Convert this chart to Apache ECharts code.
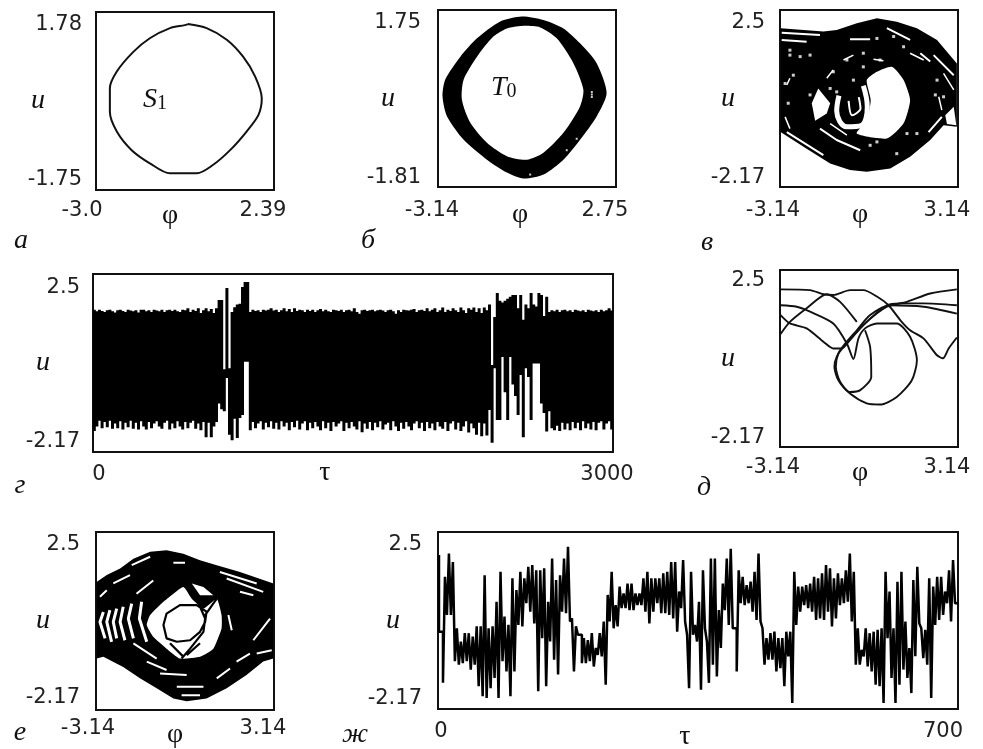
<!DOCTYPE html>
<html><head><meta charset="utf-8">
<style>html,body{margin:0;padding:0;background:#fff}#c{width:983px;height:749px}</style>
<script src="https://cdn.jsdelivr.net/npm/echarts@6/dist/echarts.min.js"></script>
</head><body><div id="c"></div>
<script>
// ---------- panel а
const aLoop=[[-.22,1.54],[.35,1.46],[.96,1.23],[1.46,.89],[1.82,.5],[2.02,.07],[1.92,-.26],[1.56,-.59],[1.06,-.96],[.55,-1.25],[.05,-1.42],[-.76,-1.42],[-1.37,-1.22],[-1.92,-.96],[-2.37,-.59],[-2.58,-.2],[-2.58,.27],[-2.37,.6],[-1.87,.99],[-1.37,1.26],[-.76,1.46],[-.31,1.52],[-.22,1.54]];
// ---------- panel б
const bOuter=[[-.37,1.62],[.35,1.55],[1.01,1.38],[1.56,1.08],[2.11,.68],[2.44,.08],[2.11,-.39],[1.56,-.86],[1.01,-1.26],[.35,-1.56],[-.31,-1.64],[-.86,-1.52],[-1.52,-1.26],[-2.29,-.86],[-2.84,-.39],[-2.99,.01],[-2.9,.35],[-2.4,.81],[-1.85,1.18],[-1.08,1.52]];
const bInner=[[-.37,1.43],[.24,1.4],[.79,1.18],[1.34,.68],[1.67,.15],[1.56,-.19],[1.01,-.72],[.35,-1.12],[-.2,-1.26],[-.86,-1.19],[-1.52,-.92],[-2.07,-.52],[-2.35,-.05],[-2.29,.35],[-1.85,.81],[-1.3,1.22],[-.86,1.38]];
const bSpecks=[[1.95,.05],[1.95,.0],[1.95,.1],[1.45,-.84],[1.12,-1.07],[-.09,-1.56]];
// ---------- panel в
const vOuter=[[-3.12,2.02],[-1.61,1.93],[-1.14,1.97],[-.43,2.15],[.28,2.28],[.98,2.19],[1.69,2.02],[2.4,1.71],[3.1,1.09],[3.1,-.58],[2.63,-.54],[2.16,-.93],[1.45,-1.37],[.75,-1.68],[-.08,-1.77],[-.67,-1.72],[-1.37,-1.55],[-2.2,-1.16],[-3.12,-.72]];
const vHole=[[-.08,.65],[.28,.87],[.81,1],[1.22,.65],[1.45,.12],[1.22,-.49],[.63,-.89],[-.43,-.76],[-.08,-.41],[.06,.12]];
const vPatch=[[-1.79,.43],[-1.37,.04],[-1.49,-.23],[-1.9,-.42],[-2.02,.04]];
const vPatch2=[[2.69,-.28],[2.99,-.05],[3.08,-.54],[2.75,-.51]];
const vGaps=[
 [[-3.08,1.9],[-1.73,1.84]],[[-3.08,1.71],[-2.2,1.66]],[[.63,2.02],[1.45,1.71]],[[-.67,1.73],[.04,1.73]],
 [[2.28,1.31],[2.99,.78]],[[-2.9,-.72],[-1.61,-1.33]],[[-1.73,-.63],[-1.14,-.93],[-.31,-1.2]],[[2.57,-.32],[2.1,-.72]],
 [[1.81,1.36],[2.16,1.14]]];
const vThinGaps=[[[-1.49,.7],[-1.26,.92]],[[-.9,1.18],[-.55,1.31]],[[.16,1.2],[.51,1.16]],[[1.45,1.36],[1.93,1.18]],[[-2.9,.52],[-2.79,.7]],[[-2.96,-.32],[-2.79,-.63]],[[-1.37,-.5],[-.78,-.8]],[[2.63,.83],[2.99,.39]],[[2.46,.21],[2.57,-.14]]];
const vSpiral=[[-.2,.5],[-.06,-.05],[-.28,-.55],[-.78,-.58],[-1.14,-.16],[-1.06,.24]];
const vSpiralCore=[[-.72,.1],[-.6,-.28],[-.3,-.1],[-.36,.2]];
const vSpecks=[[-1.26,.87],[-2.08,1.31],[-2.79,1.44],[-2.96,.56],[-2.67,.78],[-2.85,.04],[-2.08,.26],[-1.37,.43],[-1.14,.34],[-.78,1.18],[-.2,1.36],[.39,1.18],[.87,1.8],[.28,1.75],[1.22,1.53],[2.4,.65],[2.63,.21],[2.34,.26],[1.34,-.76],[1.69,-.76],[.98,-1.29],[.28,-.98],[.04,-1.07],[-2.79,1.31],[-2.43,1.27],[-.55,.65],[-.2,1]];
// ---------- panel г
const gHi=[1.56,1.52,1.56,1.53,1.5,1.55,1.56,1.52,1.49,1.55,
1.56,1.53,1.5,1.56,1.54,1.52,1.55,1.49,1.56,1.56,
1.52,1.55,1.5,1.56,1.54,1.52,1.56,1.5,1.55,1.56,
1.53,1.56,1.52,1.5,1.56,1.55,1.6,1.5,1.56,1.53,
1.6,1.48,1.55,1.6,1.52,1.58,1.48,1.6,1.82,1.82,
0,2.13,.03,1.5,1.63,1.7,1.72,2.16,2.29,2.29,
1.5,1.56,1.53,1.55,1.5,1.56,1.54,1.56,1.6,1.54,
1.56,1.5,1.55,1.6,1.52,1.58,1.5,1.6,1.53,1.56,
1.55,1.5,1.56,1.53,1.56,1.5,1.55,1.58,1.52,1.56,
1.52,1.5,1.56,1.55,1.53,1.56,1.5,1.55,1.56,1.52,
1.6,1.5,1.46,1.55,1.56,1.53,1.55,1.56,1.52,1.55,
1.56,1.54,1.5,1.55,1.56,1.52,1.46,1.55,1.5,1.56,
1.55,1.54,1.56,1.58,1.5,1.55,1.56,1.53,1.6,1.52,
1.56,1.6,1.5,1.55,1.62,1.5,1.56,1.53,1.6,1.55,
1.5,1.62,1.55,1.48,1.6,1.56,1.62,1.5,1.6,1.48,
1.62,1.55,1.7,.11,1.37,2,1.8,1.75,1.8,1.85,
1.9,1.95,1.95,1.6,1.95,1.3,1.7,1.6,2,1.7,
1.65,2,1.95,1.4,1.9,1.5,1.55,1.52,1.56,1.5,
1.55,1.56,1.52,1.55,1.5,1.56,1.54,1.52,1.55,1.5,
1.56,1.54,1.52,1.55,1.5,1.56,1.52,1.55,1.6,1.54];
const gLo=[-1.62,-1.5,-1.35,-1.55,-1.38,-1.52,-1.35,-1.56,-1.42,-1.55,
-1.36,-1.58,-1.4,-1.52,-1.35,-1.56,-1.4,-1.58,-1.36,-1.5,
-1.58,-1.38,-1.55,-1.42,-1.36,-1.5,-1.56,-1.4,-1.35,-1.58,
-1.42,-1.55,-1.36,-1.5,-1.58,-1.38,-1.55,-1.4,-1.35,-1.56,
-1.42,-1.6,-1.38,-1.78,-1.4,-1.78,-1.5,-1.38,-.9,-1.05,
-1.1,-.23,-1.72,-1.86,-1.3,-1.8,-1.28,-1.2,.2,.2,
-1.6,-1.38,-1.55,-1.42,-1.36,-1.58,-1.4,-1.52,-1.36,-1.56,
-1.4,-1.58,-1.36,-1.5,-1.4,-1.6,-1.38,-1.52,-1.35,-1.58,
-1.42,-1.36,-1.6,-1.4,-1.55,-1.38,-1.5,-1.6,-1.36,-1.55,
-1.4,-1.62,-1.38,-1.5,-1.42,-1.36,-1.62,-1.4,-1.55,-1.38,
-1.5,-1.58,-1.36,-1.65,-1.42,-1.56,-1.38,-1.6,-1.4,-1.52,
-1.36,-1.58,-1.45,-1.4,-1.6,-1.36,-1.5,-1.62,-1.4,-1.56,
-1.38,-1.5,-1.6,-1.42,-1.36,-1.55,-1.4,-1.62,-1.38,-1.55,
-1.42,-1.6,-1.38,-1.5,-1.56,-1.38,-1.62,-1.42,-1.36,-1.58,
-1.4,-1.62,-1.5,-1.36,-1.66,-1.42,-1.55,-1.72,-1.4,-1.76,
-1.42,-1.74,-1.07,-1.93,.03,-1.33,-1.33,.32,-.6,-1.33,
.32,-.4,-.7,-1.2,-.15,-1.78,.03,-.2,-1.33,.15,
.15,.15,-.9,-1.15,-1.63,-1.1,-1.55,-1.6,-1.48,-1.62,
-1.4,-1.58,-1.42,-1.6,-1.38,-1.55,-1.4,-1.6,-1.36,-1.55,
-1.42,-1.58,-1.38,-1.6,-1.4,-1.36,-1.58,-1.42,-1.36,-1.58];
// ---------- panel д
const dTraj1=[[-3.12,1.99],[-2.08,1.97],[-1.61,1.86],[-1.26,1.84],[-.67,1.97],[-.2,1.97],[.28,1.8],[.69,1.57],[1.1,1.18],[1.45,.91],[1.93,.69],[2.4,.25],[2.61,.17],[2.81,.43],[3.1,.72]];
const dTraj2=[[-3.12,.81],[-2.79,1.13],[-2.2,1.49],[-1.49,1.86],[-1.02,1.66],[-.43,1.13]];
const dTraj3=[[3.1,1.99],[2.16,1.88],[1.34,1.66],[.63,1.53],[-.2,1.05],[-.9,.47],[-1.14,.21],[-1.22,-.05],[-1.08,-.41],[-.67,-.76],[-.08,-1.02],[.39,-1.05],[.98,-.85],[1.51,-.41],[1.69,.12],[1.45,.74],[.98,1.09],[.28,1.09],[-.14,.96],[-.37,.7],[-.55,.15],[-.78,.56],[-1.26,1.09],[-2.08,1.4],[-2.55,1.53],[-3.12,1.57]];
const dTraj4=[[-3.12,1.31],[-2.79,1.09],[-2.2,.96],[-1.61,.61],[-1.26,.43],[-.96,.43],[-.67,.65],[-.2,1.05],[.63,1.57],[1.1,1.62],[1.93,1.62],[3.1,1.57]];
const dTraj5=[[-.14,.91],[.04,.47],[.08,-.32],[-.31,-.67],[-.67,-.72],[-1.02,-.45],[-1.17,-.05],[-1.08,.3],[-.84,.56],[-.43,.91],[.04,1.31],[.75,1.57],[1.93,1.53],[3.1,1.35]];
// ---------- panel е
const eOuter=[[-3.12,1.19],[-2.76,1.37],[-2.29,1.54],[-1.82,1.8],[-1.23,1.98],[-.65,2.02],[-.06,1.93],[.53,1.76],[1.12,1.63],[1.94,1.45],[3.12,1.15],[3.12,-.82],[2.76,-.9],[2.17,-1.25],[1.47,-1.6],[.76,-1.87],[.06,-1.94],[-.41,-1.87],[-1,-1.6],[-1.59,-1.34],[-2.18,-1.04],[-2.88,-.77],[-3.12,-.82]];
const eHole=[[-1.23,.32],[-.76,.67],[-.06,1.06],[.24,.75],[.65,.49],[1.12,.75],[1.29,.32],[1.29,-.03],[1,-.56],[.53,-.77],[-.18,-.82],[-.65,-.56],[-1.12,-.25],[-1.35,.06]];
const eHole2=[[.24,1.15],[.65,1.06],[1,.84],[.53,.84]];
const eLines=[
 [[.76,.41],[.41,.58],[-.18,.58],[-.65,.36],[-.76,.06],[-.65,-.29],[-.29,-.38],[.18,-.34],[.53,-.12],[.71,.14],[.76,.41]],
 [[.06,1.15],[.41,.75],[.71,.23],[.65,-.12],[.18,-.56],[-.12,-.82]],
 [[-.53,-.42],[-.06,-.77]],[[.53,-.42],[.06,-.73]],[[.41,.71],[1.12,.75],[.71,.32]]];
const eArcs=[
 [[-2.88,.4],[-3,.14],[-2.82,-.29]],[[-2.65,.45],[-2.76,.14],[-2.59,-.38]],[[-2.41,.49],[-2.53,.14],[-2.41,-.29]],
 [[-2.18,.54],[-2.29,.14],[-2.12,-.34]],[[-1.88,.62],[-2,.23],[-1.82,-.29]],[[-1.53,.67],[-1.61,.23],[-1.35,-.38]]];
const eGaps=[
 [[-1.88,1.63],[-1.23,1.85]],[[-.41,1.69],[0,1.69]],[[-2.53,1.15],[-1.94,1.37]],[[-1.71,.88],[-1.12,1.23]],[[-3,.8],[-2.76,.97]],
 [[1.23,1.45],[2.53,1.15]],[[1.47,1.28],[2.76,.93]],[[1.94,.93],[2.41,.84]],[[-1.35,-.9],[-.65,-1.12]],[[-.88,-1.21],[.06,-1.25]],
 [[-.29,-1.56],[.65,-1.56]],[[-.12,-1.78],[.53,-1.78]],[[1.12,-1.34],[1.59,-1.08]],[[1.82,-.9],[2.29,-.69]],[[2.53,-.69],[3.06,-.6]],
 [[2.41,-.34],[3,.23]],[[1.53,.32],[1.65,-.08]],[[-1.82,-.42],[-1,-.82]]];
// ---------- panel ж
const zhHi=[1.89,-.13,1.32,1.93,1.71,-.04,-.39,-.17,-.17,-.26,.01,.01,1.36,-.04,.01,.66,1.45,.27,.05,1.28,.97,1.45,1.28,1.58,1.63,1.49,1.49,1.54,.66,1.8,1.23,1.36,1.8,2.11,.22,.01,-.21,-.3,-.35,-.17,-.56,-.17,.14,.84,1.45,.57,1.06,.88,1.14,1.14,.88,.88,1.28,1.45,1.28,1.28,
1.28,1.41,1.45,1.71,1.71,.93,1.76,-.21,1.45,.05,.66,1.49,-.39,1.8,1.8,.44,1.14,1.8,2.06,-.04,1.49,1.32,1.1,1.19,1.45,1.93,-.04,-.3,-.17,-.13,-.3,-.3,-.13,-.13,1.45,1.06,1.06,1.1,1.14,1.32,1.28,1.41,1.63,1.54,1.28,1.41,1.28,1.49,1.93,1.45,-.04,-.61,-.04,-.17,-.13,-.08,-.04,1.45,.93,-.04,1.19,1.45,.14,-.56,1.23,1.58,-.04,-.08,1.28,1.06,1.32,1.32,.93,1.49,1.76];
const zhLo=[-.13,-1.48,.31,.31,-.91,-1,-.96,-.91,-1.13,-1,-1.57,-1.83,-1.88,-1.62,-1.35,-1.88,-.91,-1.18,-1.83,-1.18,.05,.01,.62,.4,.09,-1.7,-.3,-1.57,-.39,-.87,-1.26,.4,.36,.14,-1.18,-.21,-.96,-.96,-.91,-1.05,-.74,-.78,-1.53,.14,-.04,.01,.49,.49,.44,.44,.57,.57,.4,.09,.4,.62,
.36,.36,.31,.22,-.13,.49,.14,-1.62,-.21,-.39,-1.66,-.04,-1.48,-1,-1.31,-.56,.44,.05,-.04,-1.18,.62,.57,.62,.4,.18,.14,-1,-.87,-.87,-1.18,-1.09,-1.57,-.78,-2.01,.05,.4,.57,.49,.4,.18,.22,.18,.4,.01,.22,.57,.62,.66,.14,-1,-1,-.78,-1.05,-1.18,-1.53,-1.57,-2.01,-.3,-1.35,-2.01,-1.53,-1.13,-1.35,-1.75,-.78,.09,-.83,-1,-1.88,.05,.18,.31,.62,.14,.62];
// ---------- labels
const aTicks={x:['-3.0','2.39'],y:['-1.75','1.78']};
const bTicks={x:['-3.14','2.75'],y:['-1.81','1.75']};
const vTicks={x:['-3.14','3.14'],y:['-2.17','2.5']};
const gTicks={x:['0','3000'],y:['-2.17','2.5']};
const dTicks={x:['-3.14','3.14'],y:['-2.17','2.5']};
const eTicks={x:['-3.14','3.14'],y:['-2.17','2.5']};
const zhTicks={x:['0','700'],y:['-2.17','2.5']};
const phiName='φ', tauName='τ', uName='u';

const FONT='"DejaVu Sans"', FS=21;
const grids=[],xAxes=[],yAxes=[],series=[];
let zc=2;
function panel(box,ticks,xName,o){
  const k=grids.length;
  grids.push({left:box[0],top:box[1],width:box[2],height:box[3],show:true,borderColor:'#111',borderWidth:2,backgroundColor:'#fff',outerBoundsMode:'none'});
  const xv=ticks.x.map(Number),yv=ticks.y.map(Number);
  const lbl={fontFamily:FONT,fontSize:FS,color:'#222',lineHeight:22};
  xAxes.push({gridIndex:k,type:'value',min:xv[0],max:xv[1],
    name:xName,nameLocation:'middle',nameGap:o.xGap,nameMoveOverlap:false,
    nameTextStyle:{fontFamily:'"Liberation Serif"',fontSize:28,color:'#111',padding:[0,o.xShift*2,0,0]},
    axisLine:{show:false},axisTick:{show:false},splitLine:{show:false},
    axisLabel:{customValues:xv,margin:o.xMargin,hideOverlap:false,fontFamily:FONT,fontSize:FS,color:'#222',
      formatter:v=>(v===xv[0]?'{a|':'{b|')+(v===xv[0]?ticks.x[0]:ticks.x[1])+'}',
      rich:{a:Object.assign({},lbl,o.lShift>0?{padding:[0,0,0,o.lShift*2]}:{padding:[0,-o.lShift*2,0,0]}),
            b:Object.assign({},lbl,{padding:[0,-o.rShift*2,0,0]})}}});
  yAxes.push({gridIndex:k,type:'value',min:yv[0],max:yv[1],
    name:uName,nameLocation:'middle',nameRotate:0,nameGap:o.uGap,nameMoveOverlap:false,
    nameTextStyle:{fontFamily:'"Liberation Serif"',fontStyle:'italic',fontSize:28,color:'#111',align:'center',verticalAlign:'middle'},
    axisLine:{show:false},axisTick:{show:false},splitLine:{show:false},
    axisLabel:{customValues:yv,margin:o.yMargin,hideOverlap:false,fontFamily:FONT,fontSize:FS,color:'#222',
      verticalAlignMinLabel:'bottom',verticalAlignMaxLabel:'top',
      formatter:v=>v===yv[0]?'{m|'+ticks.y[0]+'}':'{t|'+ticks.y[1]+'}',
      rich:{t:Object.assign({},lbl,{lineHeight:o.tLH||26}),m:Object.assign({},lbl,{lineHeight:o.mLH||20})}}});
  return k;
}
function line(k,rows,color,w,smooth){
  series.push({type:'line',xAxisIndex:k,yAxisIndex:k,data:rows,showSymbol:false,silent:true,animation:false,z:zc++,smooth:smooth||false,
    lineStyle:{color:color,width:w,join:'bevel',cap:'butt'},connectNulls:false,clip:true});
}
function strokes(k,list,color,w){
  const rows=[];list.forEach(s=>{s.forEach(p=>rows.push(p));rows.push([null,null]);});
  line(k,rows,color,w);
}
function poly(k,rows,fill,smooth){
  series.push({type:'custom',xAxisIndex:k,yAxisIndex:k,data:rows,encode:{x:0,y:1},silent:true,animation:false,z:zc++,clip:true,
    renderItem:(p,api)=>p.dataIndex!==0?null:{type:'polygon',shape:{points:rows.map(r=>api.coord(r)),smooth:smooth||0},style:{fill:fill}}});
}
function specks(k,rows,size){
  series.push({type:'scatter',xAxisIndex:k,yAxisIndex:k,data:rows,symbol:'rect',symbolSize:size,silent:true,animation:false,z:zc++,
    itemStyle:{color:'#fff'}});
}
// а
let k=panel([96,12,178,178],aTicks,phiName,{xGap:12,xShift:15,xMargin:10,lShift:-14,rShift:-11,uGap:58,yMargin:14});
line(k,aLoop,'#111',2,.3);
// б
k=panel([438,10,178,177],bTicks,phiName,{xGap:14,xShift:7,xMargin:13,lShift:-6,rShift:-11,uGap:50,yMargin:17,mLH:18});
poly(k,bOuter,'#000',.25);poly(k,bInner,'#fff',.25);specks(k,bSpecks,2);
// в
k=panel([780,10,178,177],vTicks,phiName,{xGap:14,xShift:9,xMargin:13,lShift:-7,rShift:-11,uGap:52,yMargin:15,mLH:18});
poly(k,vOuter,'#000');poly(k,vHole,'#fff',.2);poly(k,vPatch,'#fff');poly(k,vPatch2,'#fff');
strokes(k,vGaps,'#fff',2);strokes(k,vThinGaps,'#fff',1.5);line(k,vSpiral,'#fff',5,.4);line(k,vSpiralCore,'#fff',2,.3);specks(k,vSpecks,3);
// г
k=panel([93,274,520,178],gTicks,tauName,{xGap:7,xShift:28,xMargin:12,lShift:6,rShift:-6,uGap:50,yMargin:13,tLH:28});
const gRows=[];gHi.forEach((h,i)=>{const t=3000*(i+.5)/gHi.length;gRows.push([t,h],[t,gLo[i]],[null,null]);});
line(k,gRows,'#000',3);
// д
k=panel([780,270,178,177],dTicks,phiName,{xGap:12,xShift:9,xMargin:10,lShift:-7,rShift:-11,uGap:52,yMargin:15,tLH:22,mLH:18});
[dTraj1,dTraj2,dTraj3,dTraj4,dTraj5].forEach(t=>line(k,t,'#111',1.9,.25));
// е
k=panel([96,532,178,178],eTicks,phiName,{xGap:11,xShift:10,xMargin:8,lShift:-8,rShift:-11,uGap:53,yMargin:16,mLH:24});
poly(k,eOuter,'#000');poly(k,eHole,'#fff',.15);poly(k,eHole2,'#fff');
strokes(k,eArcs,'#fff',3);strokes(k,eGaps,'#fff',2);strokes(k,eLines,'#000',2.2);
// ж
k=panel([438,532,520,177],zhTicks,tauName,{xGap:14,xShift:13,xMargin:12,lShift:3,rShift:-15,uGap:45,yMargin:16});
const zhRows=[];zhHi.forEach((h,i)=>{const n=zhHi.length;
  const t0=700*(i+.25)/n,t1=700*(i+.75)/n;
  zhRows.push([t0,h],[t0,zhLo[i]],[t1,zhLo[i]]);
  if(i+1<n){zhRows.push([t1,zhHi[i+1]]);}});
line(k,zhRows,'#000',2.5);

const letter=(t,x,y)=>({type:'text',x:x,y:y,style:{text:t,font:'italic 28px "Liberation Serif"',fill:'#111',textAlign:'center',textVerticalAlign:'middle'}});
const sub=(a,b,x,y)=>({type:'text',x:x,y:y,z:100,style:{rich:{i:{font:'italic 28px "Liberation Serif"',fill:'#111'},s:{font:'20px "Liberation Serif"',fill:'#111',verticalAlign:'bottom',padding:[8,0,0,0]}},text:'{i|'+a+'}{s|'+b+'}',textVerticalAlign:'middle',fill:'#111'}});
const graphic=[letter('а',21,241),letter('б',368,241),letter('в',707,243),letter('г',20,486),letter('д',704,488),letter('е',20,733),letter('ж',355,735),
 sub('S','1',143,100),sub('T','0',491,88)];
const chart=echarts.init(document.getElementById('c'),null,{renderer:'canvas'});
chart.setOption({animation:false,backgroundColor:'#fff',grid:grids,xAxis:xAxes,yAxis:yAxes,series:series,graphic:graphic});
</script></body></html>
